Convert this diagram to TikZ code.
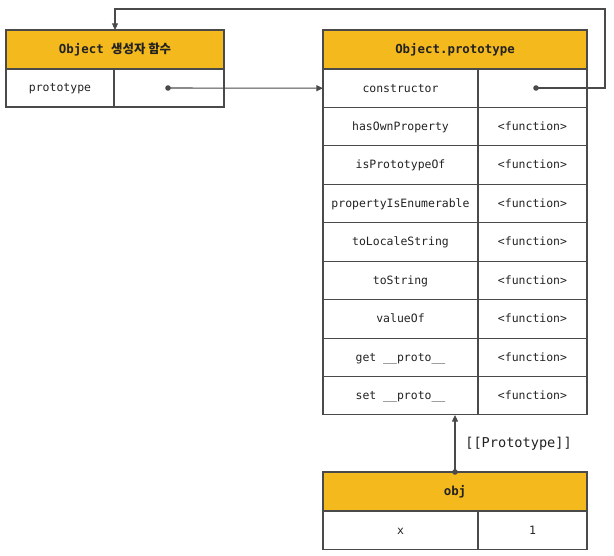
\documentclass[tikz,border=0pt]{standalone}
\usepackage{fontspec}
\setmonofont{DejaVu Sans Mono}
\newfontfamily\krfont{Noto Sans CJK KR}
\usetikzlibrary{arrows.meta}
\definecolor{hdr}{HTML}{F4B91C}
\definecolor{ln}{HTML}{4A4A4A}
\definecolor{txt}{HTML}{222222}
\begin{document}
\begin{tikzpicture}[x=0.75pt,y=-0.75pt,
  cell/.style={draw=ln,line width=0.8pt,rectangle,inner sep=0pt,outer sep=0pt,anchor=north west,
    text=txt,text height=7pt,text depth=1.2pt,font=\ttfamily\fontsize{8.6}{10}\selectfont},
  hcell/.style={cell,fill=hdr,minimum height=39*0.75pt,font=\ttfamily\bfseries\fontsize{9.3}{11}\selectfont},
  ncell/.style={cell,minimum width=155*0.75pt,minimum height=38.44*0.75pt},
  vcell/.style={cell,minimum width=109*0.75pt,minimum height=38.44*0.75pt},
  conn/.style={draw=ln,line width=0.8pt,-{Triangle[length=5pt,width=4.5pt]}},
  dot/.style={fill=ln},
]
\useasboundingbox (0,0) rectangle (614,556);
% left table
\node[hcell,minimum width=218*0.75pt] (lh) at (6,30) {Object {\krfont\bfseries 생성자 함수}};
\node[cell,minimum width=108*0.75pt,minimum height=38*0.75pt] (lp) at (6,69) {prototype};
\node[cell,minimum width=110*0.75pt,minimum height=38*0.75pt] (lv) at (114,69) {};
% right table
\node[hcell,minimum width=264*0.75pt] (rh) at (323,30) {Object.prototype};
\foreach \i/\n/\v in {0/constructor/{},1/hasOwnProperty/<function>,2/isPrototypeOf/<function>,
  3/propertyIsEnumerable/<function>,4/toLocaleString/<function>,5/toString/<function>,
  6/valueOf/<function>,7/get \_\_proto\_\_/<function>,8/set \_\_proto\_\_/<function>}{
  \node[ncell] (rn\i) at (323,69+\i*38.44) {\n};
  \node[vcell] (rv\i) at (478,69+\i*38.44) {\v};
}
% obj table
\node[hcell,minimum width=264*0.75pt] (oh) at (323,472) {obj};
\node[ncell] (on) at (323,511) {x};
\node[vcell] (ov) at (478,511) {1};
% connectors
\coordinate (d1) at (168,88);
\coordinate (d2) at (536,88);
\coordinate (c1) at (605,88);
\coordinate (c2) at (605,9);
\fill[dot] (d1) circle (2.8);
\fill[dot] (d2) circle (2.8);
\fill[dot] (oh.north) circle (2.8);
\draw[conn] (d1) -- (rn0.west);
\draw[conn] (d2) -- (c1) -- (c2) -| (lh.north);
\draw[conn] (oh.north) -- (oh.north |- rn8.south)
  node[midway,right=4pt,text=txt,font=\ttfamily\fontsize{10.2}{12}\selectfont] {[[Prototype]]};
\end{tikzpicture}
\end{document}
